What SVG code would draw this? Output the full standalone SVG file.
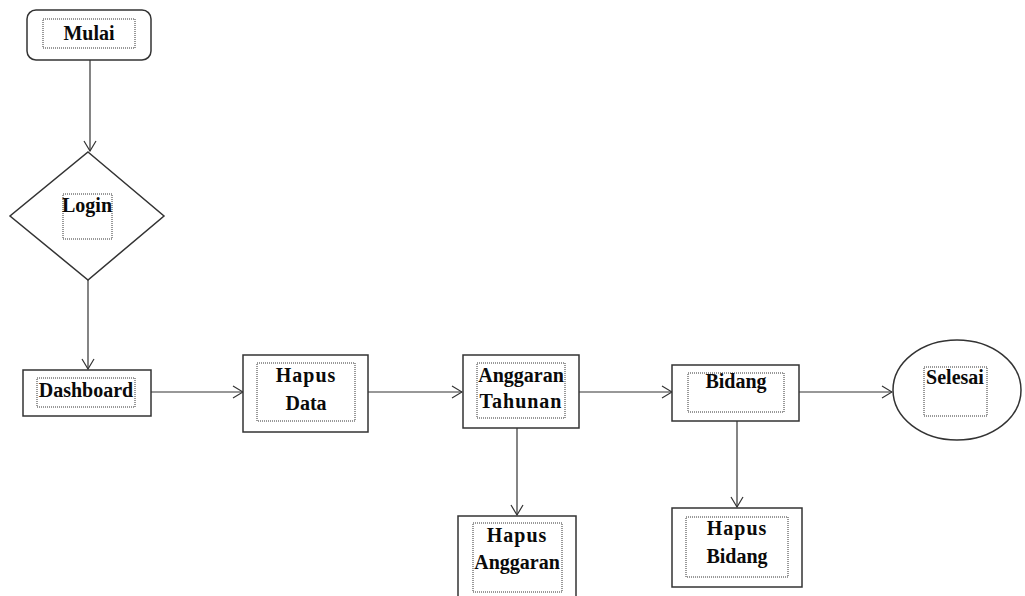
<svg xmlns="http://www.w3.org/2000/svg" width="1025" height="596" viewBox="0 0 1025 596">
  <style>
    .shape { fill: #ffffff; stroke: #333333; stroke-width: 1.5; }
    .frame { fill: none; stroke: #333333; stroke-width: 1; stroke-dasharray: 1 1; }
    .label { font-family: "Liberation Serif", "Times New Roman", serif; font-weight: bold; font-size: 20px; fill: #0a0a0a; text-anchor: middle; }
    .link { fill: none; stroke: #333333; stroke-width: 1.2; }
  </style>
  <defs>
    <marker id="arrow" markerWidth="12" markerHeight="14" refX="11" refY="7" orient="auto" markerUnits="userSpaceOnUse">
      <path d="M1,1 L11,7 L1,13" fill="none" stroke="#333333" stroke-width="1.2"/>
    </marker>
  </defs>
  <rect width="1025" height="596" fill="#ffffff"/>

  <g id="connectors">
    <line class="link" x1="90" y1="60" x2="90" y2="151" marker-end="url(#arrow)"/>
    <line class="link" x1="88" y1="280" x2="88" y2="369" marker-end="url(#arrow)"/>
    <line class="link" x1="151" y1="392" x2="243" y2="392" marker-end="url(#arrow)"/>
    <line class="link" x1="368" y1="392" x2="462" y2="392" marker-end="url(#arrow)"/>
    <line class="link" x1="579" y1="392" x2="672" y2="392" marker-end="url(#arrow)"/>
    <line class="link" x1="799" y1="392" x2="892" y2="392" marker-end="url(#arrow)"/>
    <line class="link" x1="517" y1="428" x2="517" y2="515" marker-end="url(#arrow)"/>
    <line class="link" x1="737" y1="421" x2="737" y2="507" marker-end="url(#arrow)"/>
  </g>

  <g id="mulai">
    <rect class="shape" x="27" y="10" width="124" height="50" rx="9"/>
    <rect class="frame" x="43" y="19" width="92" height="29"/>
    <text class="label" x="89" y="40">Mulai</text>
  </g>

  <g id="login">
    <polygon class="shape" points="88,152 164,216 88,280 10,216"/>
    <rect class="frame" x="63" y="194" width="49" height="45"/>
    <text class="label" x="87" y="212">Login</text>
  </g>

  <g id="dashboard">
    <rect class="shape" x="23" y="370" width="128" height="46"/>
    <rect class="frame" x="37" y="378" width="98" height="29"/>
    <text class="label" x="86" y="397">Dashboard</text>
  </g>

  <g id="hapus-data">
    <rect class="shape" x="243" y="355" width="125" height="77"/>
    <rect class="frame" x="257" y="363" width="98" height="58"/>
    <text class="label" x="306" y="382" letter-spacing="1">Hapus</text>
    <text class="label" x="306" y="410">Data</text>
  </g>

  <g id="anggaran-tahunan">
    <rect class="shape" x="463" y="355" width="116" height="73"/>
    <rect class="frame" x="477" y="363" width="88" height="55"/>
    <text class="label" x="521" y="382">Anggaran</text>
    <text class="label" x="521" y="408" letter-spacing="1">Tahunan</text>
  </g>

  <g id="bidang">
    <rect class="shape" x="672" y="365" width="127" height="56"/>
    <rect class="frame" x="688" y="373" width="96" height="39"/>
    <text class="label" x="736" y="388">Bidang</text>
  </g>

  <g id="selesai">
    <ellipse class="shape" cx="957" cy="390" rx="64" ry="50"/>
    <rect class="frame" x="924" y="367" width="63" height="49"/>
    <text class="label" x="955" y="384">Selesai</text>
  </g>

  <g id="hapus-anggaran">
    <rect class="shape" x="458" y="516" width="118" height="90"/>
    <rect class="frame" x="473" y="523" width="89" height="69"/>
    <text class="label" x="517" y="542" letter-spacing="1">Hapus</text>
    <text class="label" x="517" y="569">Anggaran</text>
  </g>

  <g id="hapus-bidang">
    <rect class="shape" x="672" y="508" width="130" height="79"/>
    <rect class="frame" x="686" y="517" width="102" height="60"/>
    <text class="label" x="737" y="535" letter-spacing="1">Hapus</text>
    <text class="label" x="737" y="563">Bidang</text>
  </g>
</svg>
